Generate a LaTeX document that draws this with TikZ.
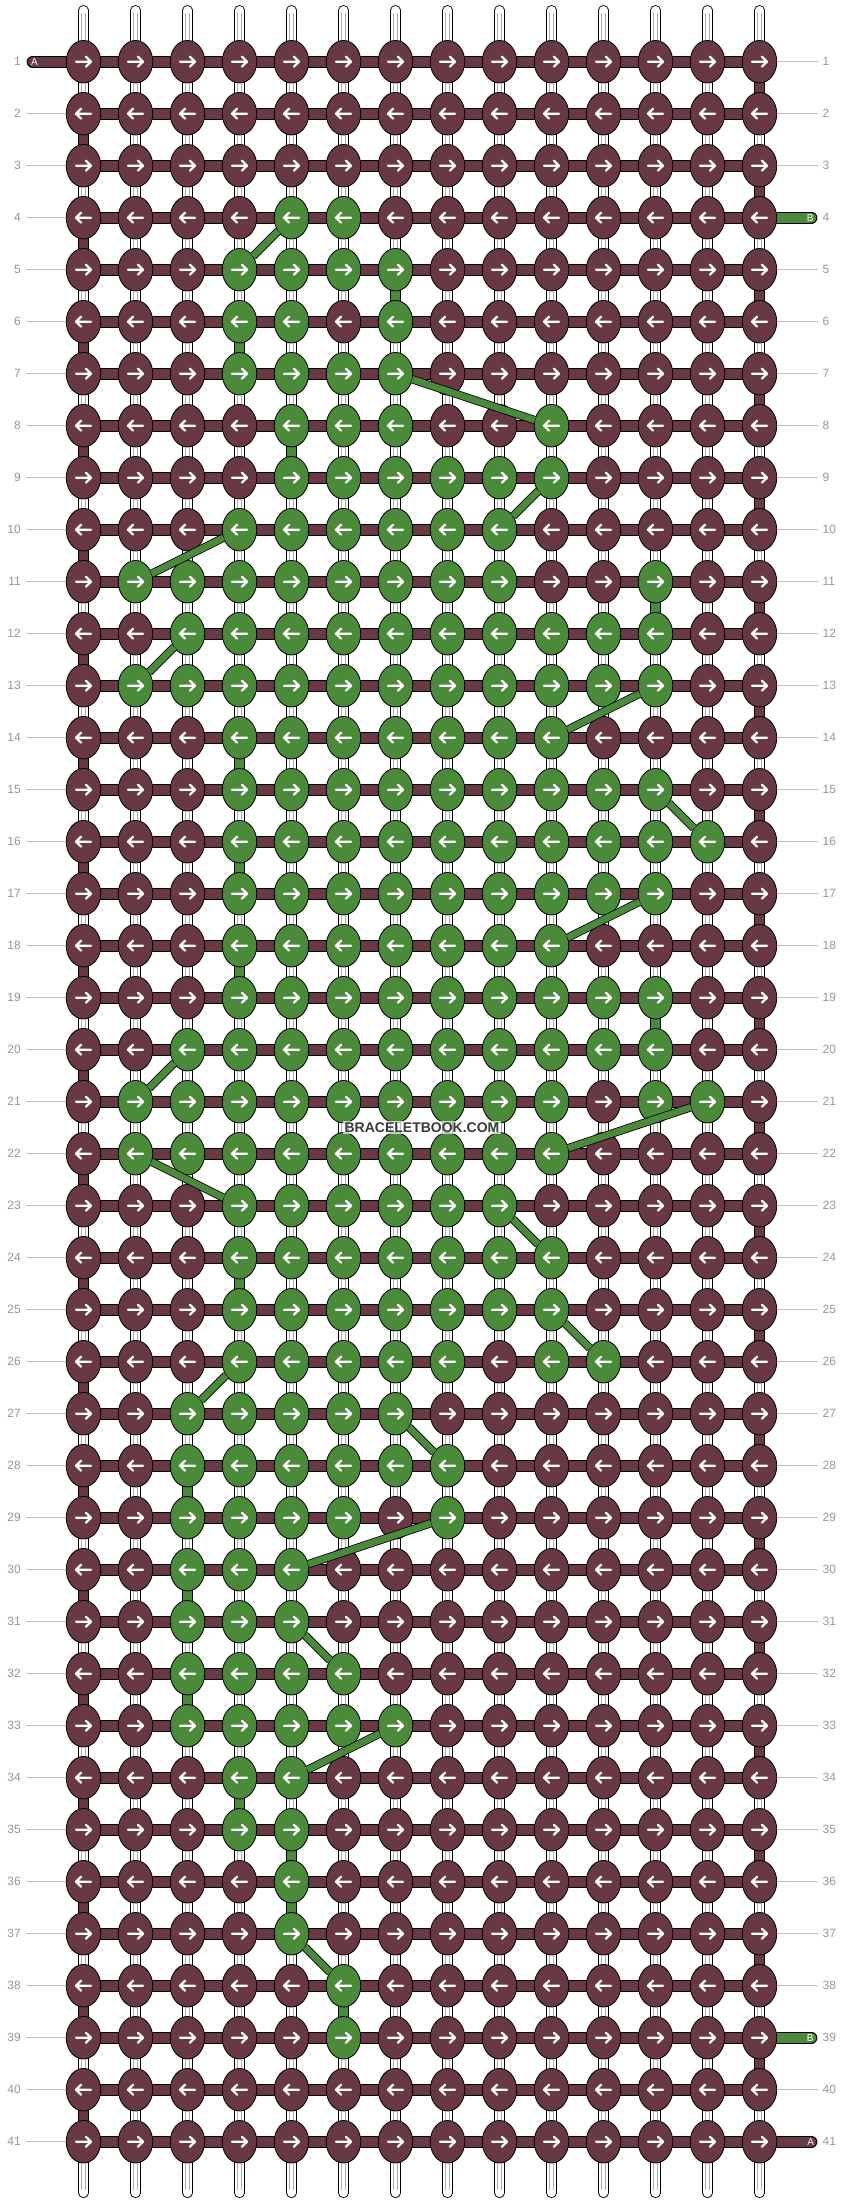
\documentclass[tikz,border=0pt]{standalone}
\usepackage{fontspec}
\setmainfont{Liberation Sans}
\usetikzlibrary{shapes.geometric}
\definecolor{mar}{RGB}{104,56,67}
\definecolor{grn}{RGB}{74,139,57}
\definecolor{lbl}{RGB}{150,150,150}
\definecolor{rulec}{RGB}{190,190,190}
\definecolor{warpin}{RGB}{175,175,175}
\definecolor{wmc}{RGB}{58,58,58}
\pgfdeclarelayer{bgfill}
\pgfdeclarelayer{warp}
\pgfdeclarelayer{bars}
\pgfdeclarelayer{over}
\pgfsetlayers{bgfill,warp,bars,main,over}
\begin{document}
\begin{tikzpicture}[x=1pt,y=-1pt,
 knot/.style={ellipse, draw=black, line width=0.8pt, minimum width=34.5pt, minimum height=42.5pt, inner sep=0pt, outer sep=0pt},
 knotM/.style={knot, fill=mar},
 knotG/.style={knot, fill=grn},
 arrR/.pic={\draw[white, line width=2.2pt, line cap=round, line join=round] (-7.5,0) -- (7.5,0) (2.4,-5) -- (7.5,0) -- (2.4,5);},
 arrL/.pic={\draw[white, line width=2.2pt, line cap=round, line join=round] (7.5,0) -- (-7.5,0) (-2.4,-5) -- (-7.5,0) -- (-2.4,5);},
 barM/.style={draw=black, line width=0.9pt, double=mar, double distance=9.9pt},
 barG/.style={draw=black, line width=0.9pt, double=grn, double distance=9.9pt},
 cordM/.style={draw=black, line width=0.9pt, double=mar, double distance=8.4pt},
 cordG/.style={draw=black, line width=0.9pt, double=grn, double distance=8.4pt},
 diagG/.style={draw=black, line width=0.8pt, double=grn, double distance=6.6pt},
 warpline/.style={draw=black, line width=0.9pt, double=white, double distance=8.4pt, line cap=round},
 warpinner/.style={draw=warpin, line width=0.5pt},
 rowlbl/.style={text=lbl, font=\fontsize{12}{12}\selectfont, inner sep=0pt},
 ruleline/.style={draw=rulec, line width=0.8pt},
 tag/.style={text=white, font=\fontsize{10}{10}\selectfont, inner sep=0pt},
]
\begin{pgfonlayer}{bgfill}
\fill[white] (0,0) rectangle (844,2204);
\end{pgfonlayer}
\useasboundingbox (0,0) rectangle (844,2204);

% knots
\foreach \r/\gs in {1/{-1},2/{-1},3/{-1},4/{4,5},5/{3,4,5,6},6/{3,4,6},7/{3,4,5,6},8/{4,5,6,9},
 9/{4,5,6,7,8,9},10/{3,4,5,6,7,8},11/{1,2,3,4,5,6,7,8,11},12/{2,3,4,5,6,7,8,9,10,11},
 13/{1,2,3,4,5,6,7,8,9,10,11},14/{3,4,5,6,7,8,9},15/{3,4,5,6,7,8,9,10,11},16/{3,4,5,6,7,8,9,10,11,12},
 17/{3,4,5,6,7,8,9,10,11},18/{3,4,5,6,7,8,9},19/{3,4,5,6,7,8,9,10,11},20/{2,3,4,5,6,7,8,9,10,11},
 21/{1,2,3,4,5,6,7,8,9,11,12},22/{1,2,3,4,5,6,7,8,9},23/{3,4,5,6,7,8},24/{3,4,5,6,7,8,9},
 25/{3,4,5,6,7,8,9},26/{3,4,5,6,7,9,10},27/{2,3,4,5,6},28/{2,3,4,5,6,7},29/{2,3,4,5,7},
 30/{2,3,4},31/{2,3,4},32/{2,3,4,5},33/{2,3,4,5,6},34/{3,4},35/{3,4},36/{4},37/{4},38/{5},39/{5},
 40/{-1},41/{-1}} {
  \foreach \c in {0,...,13} {
    \gdef\kst{knotM}
    \foreach \g in \gs {\ifnum\g=\c\relax\gdef\kst{knotG}\fi}
    \node[\kst] (k-\r-\c) at ({83.5+52*\c},{61.7+52*(\r-1)}) {};
    \ifodd\r\relax
      \pic at (k-\r-\c) {arrR};
    \else
      \pic at (k-\r-\c) {arrL};
    \fi
  }
}

% warp strands
\begin{pgfonlayer}{warp}
\foreach \c in {0,...,13} {
  \coordinate (wt-\c) at ({83.5+52*\c},10.2);
  \coordinate (wb-\c) at ({83.5+52*\c},2193);
  \draw[warpline] (wt-\c) -- (wb-\c);
  \draw[warpinner] ([xshift=-1.8pt,yshift=-3pt]wt-\c) -- ([xshift=-1.8pt,yshift=3pt]wb-\c);
  \draw[warpinner] ([xshift=1.8pt,yshift=-3pt]wt-\c) -- ([xshift=1.8pt,yshift=3pt]wb-\c);
}
\end{pgfonlayer}

% horizontal bars and turns
\begin{pgfonlayer}{bars}
\foreach \r in {1,...,41} {
  \draw[barM] (k-\r-0.center) -- (k-\r-13.center);
}
\foreach \r in {1,...,40} {
  \pgfmathtruncatemacro\rn{\r+1}
  \ifodd\r\relax\def\cc{13}\else\def\cc{0}\fi
  \draw[cordM] (k-\r-\cc.center) -- (k-\rn-\cc.center);
}
\foreach \r/\c in {5/6,6/3,8/4,11/11,14/3,16/3,18/3,19/11,24/3,28/2,30/2,32/2,34/3,35/4,36/4,38/5} {
  \pgfmathtruncatemacro\rn{\r+1}
  \draw[cordG] (k-\r-\c.center) -- (k-\rn-\c.center);
}
\coordinate (aL) at (32.5,61.7);
\draw[barM, line cap=round] (aL) -- (k-1-0.center);
\coordinate (aR) at (811.5,2141.7);
\draw[barM, line cap=round] (k-41-13.center) -- (aR);
\coordinate (bR4) at (811.5,217.7);
\draw[barG, line cap=round] (k-4-13.center) -- (bR4);
\coordinate (bR39) at (811.5,2037.7);
\draw[barG, line cap=round] (k-39-13.center) -- (bR39);
\end{pgfonlayer}

\node[tag] (tA1) at (34.5,61.7) {A};
\node[tag] (tA41) at (810.8,2141.7) {A};
\node[tag] (tB4) at (810.2,217.7) {B};
\node[tag] (tB39) at (810.2,2037.7) {B};

% row labels
\foreach \r in {1,...,41} {
  \node[rowlbl, anchor=east] (ll-\r) at (21,{61.7+52*(\r-1)}) {\r};
  \node[rowlbl, anchor=west] (rl-\r) at (822.5,{61.7+52*(\r-1)}) {\r};
}
\foreach \r in {2,...,41} {
  \draw[ruleline, shorten <=5pt] (ll-\r) -- (k-\r-0);
}
\foreach \r in {1,2,3,5,6,...,38,40} {
  \draw[ruleline, shorten >=4.5pt] (k-\r-13) -- (rl-\r);
}

% diagonal connectors of strand B
\begin{pgfonlayer}{over}
\foreach \r/\a/\b in {4/4/3,7/6/9,9/9/8,10/3/1,12/2/1,13/11/9,15/11/12,17/11/9,20/2/1,21/12/9,
  22/1/3,23/8/9,25/9/10,26/3/2,27/6/7,29/7/4,31/4/5,33/6/4,37/4/5} {
  \pgfmathtruncatemacro\rn{\r+1}
  \draw[diagG] (k-\r-\a) -- (k-\rn-\b);
}
\node[fill=white, fill opacity=0.7, text opacity=1, text=wmc, font=\bfseries\fontsize{14}{14}\selectfont, inner xsep=2pt, inner ysep=1.5pt] (wm) at (422,1127.7) {BRACELETBOOK.COM};
\end{pgfonlayer}
\end{tikzpicture}
\end{document}
